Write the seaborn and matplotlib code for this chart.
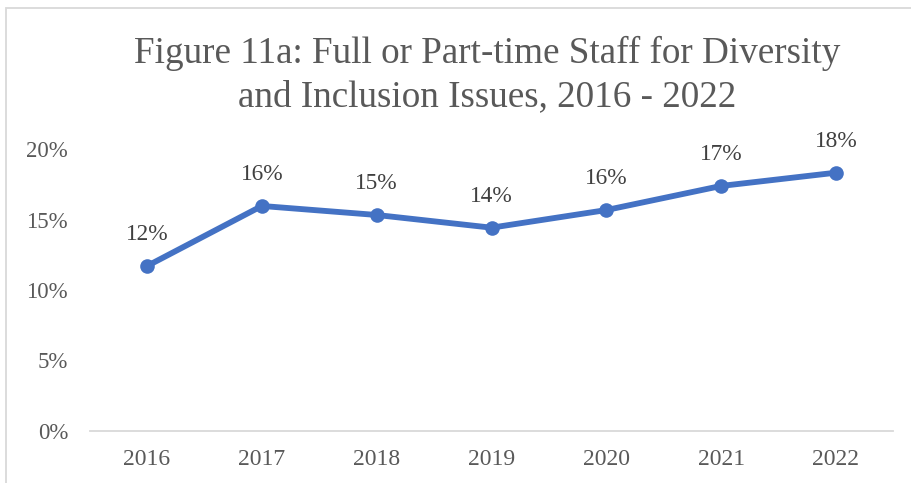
import matplotlib
matplotlib.use("Agg")
import matplotlib.pyplot as plt
from matplotlib.patches import Rectangle
from matplotlib.ticker import FuncFormatter
import seaborn as sns
import pandas as pd

# Share of institutions with full or part-time D&I staff, by survey year
years = [2016, 2017, 2018, 2019, 2020, 2021, 2022]
share = [11.7, 15.96, 15.32, 14.42, 15.67, 17.38, 18.32]
y_ticks = [0, 5, 10, 15, 20]
title = "Figure 11a: Full or Part-time Staff for Diversity\nand Inclusion Issues, 2016 - 2022"

df = pd.DataFrame({"year": years, "share": share})

sns.set_theme(style="white")
plt.rcParams["font.family"] = ["Liberation Serif", "DejaVu Serif"]

W, H = 912, 483
fig = plt.figure(figsize=(W / 100, H / 100), dpi=100)
ax = fig.add_axes([89.6 / W, 52 / H, (893.4 - 89.6) / W, (431 - 149) / H])

line_color = "#4472C4"
sns.lineplot(data=df, x="year", y="share", ax=ax, color=line_color,
             linewidth=4.2, marker="o", markersize=10.5,
             markeredgecolor=line_color, markeredgewidth=0)

for yr, v in zip(years, share):
    ax.annotate(f"{round(v):d}%", (yr, v), xytext=(0, 22.5), textcoords="offset points",
                ha="center", va="center", fontsize=16.8, color="#404040")

ax.set_xlim(years[0] - 0.5, years[-1] + 0.5)
ax.set_ylim(0, 20)
ax.set_xticks(years)
ax.set_xticklabels([str(y) for y in years])
ax.set_yticks(y_ticks)
ax.yaxis.set_major_formatter(FuncFormatter(lambda v, p: f"{v:.0f}%"))
ax.tick_params(axis="both", length=0, labelcolor="#595959")
ax.tick_params(axis="x", pad=13, labelsize=17)
ax.tick_params(axis="y", pad=15.5, labelsize=16.5)
ax.set_xlabel("")
ax.set_ylabel("")

for side in ["top", "right", "left"]:
    ax.spines[side].set_visible(False)
ax.spines["bottom"].set_color("#D9D9D9")
ax.spines["bottom"].set_linewidth(1.3)
ax.patch.set_alpha(0)

fig.text(487 / W, 1 - 75 / H, title, ha="center", va="center",
         fontsize=26.7, color="#595959", linespacing=1.3)

# light frame around the chart area
fig.patches.append(Rectangle((6.5 / W, -0.1), 1.2, 0.1 + (H - 8) / H,
                             transform=fig.transFigure, fill=False,
                             edgecolor="#D9D9D9", linewidth=1.3, zorder=0))

fig.savefig("out.png", dpi=100)
